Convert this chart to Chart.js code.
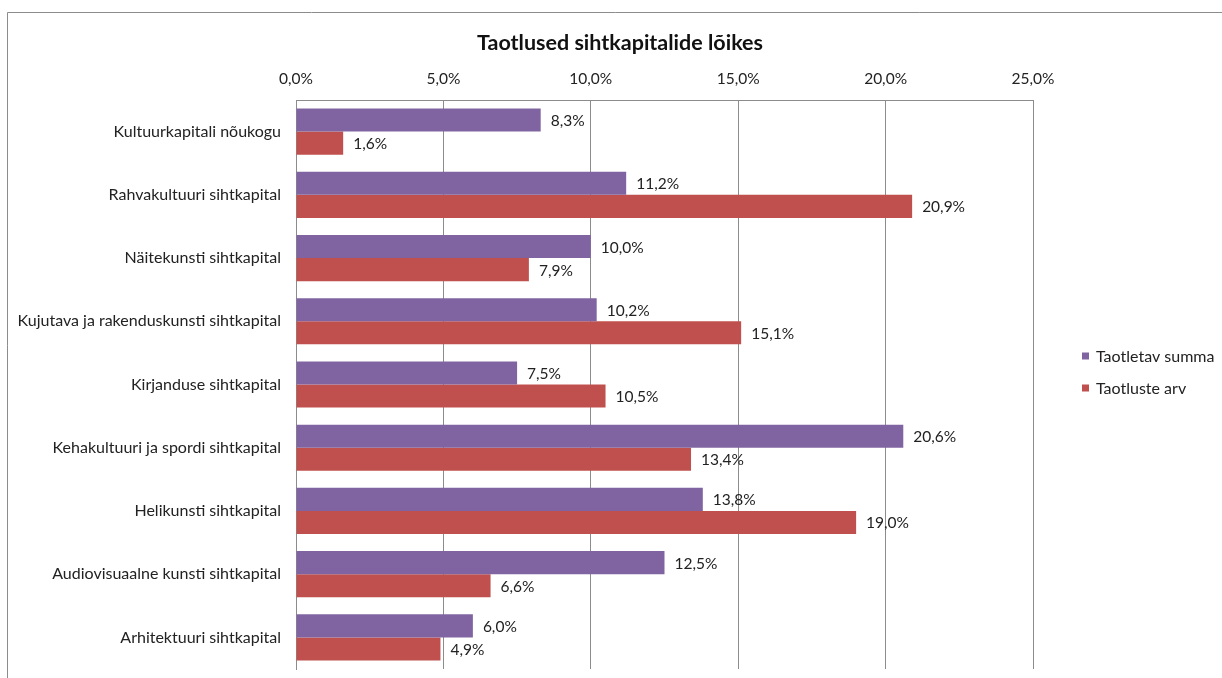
<!DOCTYPE html>
<html>
<head>
<meta charset="utf-8">
<script src="https://cdn.jsdelivr.net/npm/chart.js@4"></script>
<style>
  body { margin: 0; background: #fff; }
  #wrap { width: 1222px; height: 678px; }
</style>
</head>
<body>
<div id="wrap"><canvas id="myChart" width="1222" height="678"></canvas></div>
<script>
const categories = [
    'Kultuurkapitali nõukogu',
    'Rahvakultuuri sihtkapital',
    'Näitekunsti sihtkapital',
    'Kujutava ja rakenduskunsti sihtkapital',
    'Kirjanduse sihtkapital',
    'Kehakultuuri ja spordi sihtkapital',
    'Helikunsti sihtkapital',
    'Audiovisuaalne kunsti sihtkapital',
    'Arhitektuuri sihtkapital'
];
const seriesNames = ['Taotletav summa', 'Taotluste arv'];
const summa = [8.3, 11.2, 10.0, 10.2, 7.5, 20.6, 13.8, 12.5, 6.0];
const arv = [1.6, 20.9, 7.9, 15.1, 10.5, 13.4, 19.0, 6.6, 4.9];
const tickValues = [0, 5, 10, 15, 20, 25];
const chartTitle = 'Taotlused sihtkapitalide lõikes';

const FONT = 'Lato, "Open Sans", sans-serif';
const fmt = v => v.toFixed(1).replace('.', ',') + '%';

// outer frame, title, value labels and legend drawn by hand
const extras = {
    id: 'extras',
    beforeDraw(chart) {
        const c = chart.ctx;
        c.save();
        c.strokeStyle = '#8c8c8c';
        c.lineWidth = 1;
        c.beginPath();
        c.moveTo(7.5, 700);
        c.lineTo(7.5, 12.5);
        c.lineTo(1230, 12.5);
        c.stroke();
        c.font = 'bold 21.5px ' + FONT;
        c.fillStyle = '#111';
        c.textAlign = 'center';
        c.textBaseline = 'middle';
        c.fillText(chartTitle, 620, 43);
        c.restore();
    },
    afterDatasetsDraw(chart) {
        const c = chart.ctx;
        c.save();
        c.font = '15.5px ' + FONT;
        c.fillStyle = '#222';
        c.textBaseline = 'middle';
        c.textAlign = 'left';
        chart.data.datasets.forEach((ds, i) => {
            chart.getDatasetMeta(i).data.forEach((bar, j) => {
                c.fillText(fmt(ds.data[j]), bar.x + 10, bar.y + 1);
            });
        });
        // legend
        c.font = '16px ' + FONT;
        chart.data.datasets.forEach((ds, i) => {
            const y = 356 + i * 32;
            c.fillStyle = ds.backgroundColor;
            c.fillRect(1082, y - 3.5, 7, 7);
            c.fillStyle = '#222';
            c.fillText(ds.label, 1096, y + 1);
        });
        c.restore();
    }
};

const ctx = document.getElementById('myChart').getContext('2d');
const myChart = new Chart(ctx, {
    type: 'bar',
    data: {
        labels: categories,
        datasets: [{
            label: seriesNames[0],
            data: summa,
            backgroundColor: '#8064A2',
            barPercentage: 1,
            categoryPercentage: 0.73
        }, {
            label: seriesNames[1],
            data: arv,
            backgroundColor: '#C0504D',
            barPercentage: 1,
            categoryPercentage: 0.73
        }]
    },
    options: {
        indexAxis: 'y',
        responsive: false,
        animation: false,
        layout: { padding: { left: 0, right: 189, top: 52, bottom: 9 } },
        scales: {
            x: {
                position: 'top',
                min: 0,
                max: 25,
                afterBuildTicks: s => { s.ticks = tickValues.map(v => ({ value: v })); },
                afterFit: s => { s.height = 48; },
                ticks: {
                    callback: v => fmt(v),
                    font: { family: FONT, size: 15.5 },
                    color: '#222',
                    padding: 12
                },
                grid: { color: '#8c8c8c', drawTicks: false },
                border: { color: '#8c8c8c' }
            },
            y: {
                afterFit: s => { s.width = 296; s.paddingTop = 0; s.paddingBottom = 0; },
                ticks: {
                    font: { family: FONT, size: 16 },
                    color: '#222',
                    padding: 15
                },
                grid: { display: false, drawTicks: false },
                border: { color: '#8c8c8c' }
            }
        },
        plugins: {
            legend: { display: false },
            tooltip: { enabled: false },
            title: { display: false }
        }
    },
    plugins: [extras]
});
</script>
</body>
</html>
